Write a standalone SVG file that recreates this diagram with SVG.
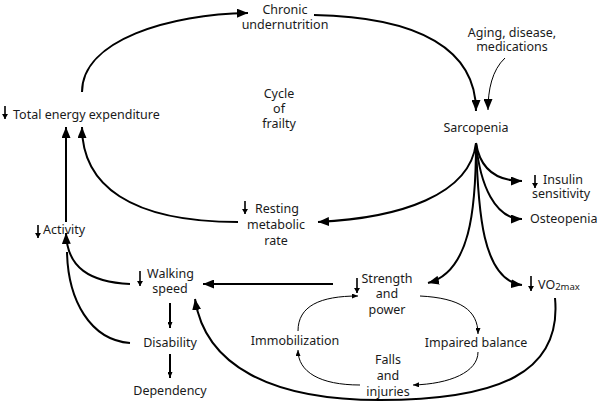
<svg xmlns="http://www.w3.org/2000/svg" width="601" height="405" viewBox="0 0 601 405">
<style>
text{font-family:"Noto Sans","Open Sans",sans-serif;font-size:12.5px;fill:#1a1a1a;text-anchor:middle}
.s{text-anchor:start}
.c{fill:none;stroke:#000;stroke-width:2}
.t{fill:none;stroke:#000;stroke-width:1}
.d{fill:none;stroke:#000;stroke-width:1.6}
</style>
<defs>
<marker id="a" viewBox="0 0 11 9" refX="11" refY="4.5" markerWidth="11" markerHeight="9" markerUnits="userSpaceOnUse" orient="auto"><path d="M0,0L11,4.5L0,9Z" fill="#000"/></marker>
<marker id="b" viewBox="0 0 6 5" refX="6" refY="2.5" markerWidth="6" markerHeight="5" markerUnits="userSpaceOnUse" orient="auto"><path d="M0,0L6,2.5L0,5Z" fill="#000"/></marker>
<marker id="m" viewBox="0 0 5 6" refX="5" refY="3" markerWidth="5" markerHeight="6" markerUnits="userSpaceOnUse" orient="auto"><path d="M0,0L5,3L0,6Z" fill="#000"/></marker>
</defs>
<g id="connectors">
<path class="c" d="M82,92 C82,40 170,14 248,13" marker-end="url(#a)"/>
<path class="c" d="M314,15 C420,17 476,50 476,111" marker-end="url(#a)"/>
<path class="t" d="M505,58 C492,70 488,90 488,110" marker-end="url(#a)"/>
<path class="c" d="M476,143 C470,195 400,218 318,222" marker-end="url(#a)"/>
<path class="c" d="M476,143 C480,168 495,181 522,181" marker-end="url(#a)"/>
<path class="c" d="M476,143 C480,185 495,219 522,219" marker-end="url(#a)"/>
<path class="c" d="M476,143 C476,210 470,272 428,283" marker-end="url(#a)"/>
<path class="c" d="M476,143 C478,210 482,280 522,285" marker-end="url(#a)"/>
<path class="c" d="M238,222 C130,222 82,185 82,127" marker-end="url(#a)"/>
<path class="c" d="M66,222 L66,127" marker-end="url(#a)"/>
<path class="c" d="M130,284 C90,282 67,268 66,233" marker-end="url(#a)"/>
<path class="c" d="M130,343 C90,340 68,300 67,252"/>
<path class="c" d="M333,284 L203,284" marker-end="url(#a)"/>
<path class="c" d="M555,298 C562,372 500,400 380,400 C270,400 205,365 195,299" marker-end="url(#a)"/>
<path class="c" d="M170,303 L170,328" marker-end="url(#b)"/>
<path class="c" d="M170,354 L170,378" marker-end="url(#b)"/>
<path class="t" d="M298,331 C298,306 320,296 358,296" marker-end="url(#b)"/>
<path class="t" d="M420,296 C460,298 478,310 478,334" marker-end="url(#b)"/>
<path class="t" d="M478,352 C478,372 450,384 413,385" marker-end="url(#b)"/>
<path class="t" d="M360,385 C320,385 298,372 298,350" marker-end="url(#b)"/>
</g>
<g id="chronic"><text x="285" y="14">Chronic</text><text x="285" y="28.5">undernutrition</text></g>
<g id="aging"><text x="512" y="37">Aging, disease,</text><text x="512" y="51">medications</text></g>
<g id="sarcopenia"><text x="476" y="132">Sarcopenia</text></g>
<g id="tee"><path class="d" d="M5,106 L5,119" marker-end="url(#m)"/><text class="s" x="13" y="119">Total energy expenditure</text></g>
<g id="cycle"><text x="279" y="98">Cycle</text><text x="279" y="112.5">of</text><text x="279" y="128">frailty</text></g>
<g id="resting"><path class="d" d="M245,201 L245,214" marker-end="url(#m)"/><text class="s" x="255" y="213">Resting</text><text x="276" y="229">metabolic</text><text x="276" y="245">rate</text></g>
<g id="insulin"><path class="d" d="M535,175 L535,188" marker-end="url(#m)"/><text class="s" x="543" y="184">Insulin</text><text class="s" x="532" y="198">sensitivity</text></g>
<g id="osteopenia"><text class="s" x="530" y="223">Osteopenia</text></g>
<g id="strength"><path class="d" d="M357,278 L357,293" marker-end="url(#m)"/><text x="387" y="283">Strength</text><text x="387" y="298">and</text><text x="387" y="314">power</text></g>
<g id="vo2"><path class="d" d="M531,276 L531,291" marker-end="url(#m)"/><text class="s" x="538" y="289">VO<tspan font-size="9.5" dy="1">2max</tspan></text></g>
<g id="walking"><path class="d" d="M140,271 L140,286" marker-end="url(#m)"/><text class="s" x="147" y="278">Walking</text><text x="170" y="293">speed</text></g>
<g id="activity"><path class="d" d="M38,225 L38,238" marker-end="url(#m)"/><text class="s" x="43" y="234">Activity</text></g>
<g id="disability"><text x="170" y="347">Disability</text></g>
<g id="dependency"><text x="170" y="395">Dependency</text></g>
<g id="immobilization"><text x="295" y="345">Immobilization</text></g>
<g id="balance"><text x="476" y="347">Impaired balance</text></g>
<g id="falls"><text x="388" y="364">Falls</text><text x="388" y="380">and</text><text x="388" y="396">injuries</text></g>
</svg>
